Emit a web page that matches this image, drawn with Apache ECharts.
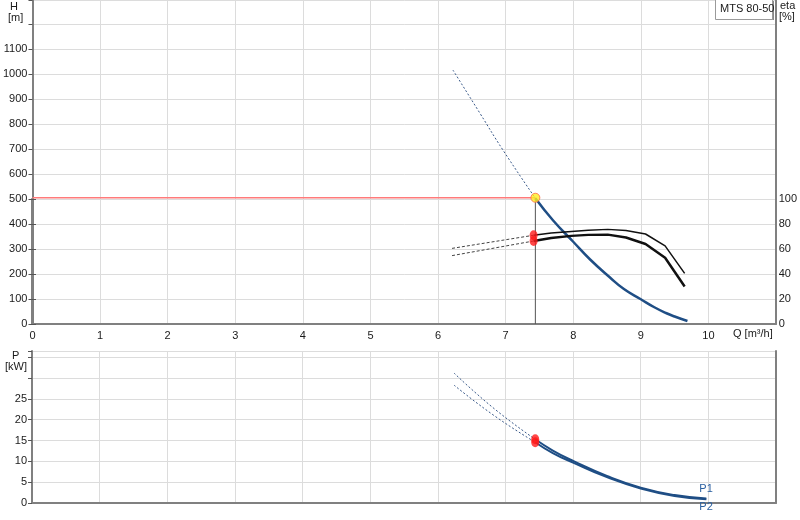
<!DOCTYPE html>
<html><head><meta charset="utf-8">
<script src="https://cdn.jsdelivr.net/npm/echarts@6/dist/echarts.min.js"></script>
<style>html,body{margin:0;padding:0;background:#fff}#c{width:800px;height:520px}</style>
</head><body><div id="c"></div>
<script>
// ---------- data ----------
const chartTitle = 'MTS 80-50';
const qTickLabels = [0,1,2,3,4,5,6,7,8,9,10];
const hTickLabels = [0,100,200,300,400,500,600,700,800,900,1000,1100];
const etaTickLabels = [0,20,40,60,80,100];
const pTickLabels = [0,5,10,15,20,25];

const dutyQ = 7.44;
const dutyH = 505;

const hQ   = [7.44, 7.7, 8.0, 8.25, 8.54, 8.75, 9.0, 9.2, 9.38, 9.5, 9.69];
const hVal = [503, 415, 329, 258, 187, 140, 99, 67, 43, 30, 12];
const hExtQ   = [6.22, 6.62, 6.96, 7.44];
const hExtVal = [1016, 843, 696, 503];

const etaQ     = [7.44, 7.7, 8.0, 8.25, 8.54, 8.81, 9.1, 9.39, 9.68];
const eta1Val  = [71, 72.8, 74, 75, 75.7, 74.8, 72, 62.5, 40.5];
const eta2Val  = [66.4, 68.8, 70.5, 71.3, 71.5, 69.2, 64, 53, 30];
const etaExtQ    = [6.23, 7.44];
const eta1ExtVal = [60.5, 71];
const eta2ExtVal = [54.7, 66.4];

const pQ    = [7.44, 7.7, 8.0, 8.5, 9.0, 9.5, 9.97];
const p1Val = [15.3, 12.6, 10.1, 6.5, 3.7, 1.9, 1.1];
const p2Val = [14.6, 12.0, 9.7, 6.2, 3.5, 1.7, 0.9];
const p1ExtQ   = [6.24, 6.83, 7.44];
const p1ExtVal = [31.2, 22.7, 15.3];
const p2ExtQ   = [6.24, 6.84, 7.44];
const p2ExtVal = [28.3, 20.9, 14.6];
const seriesNames = ['P1', 'P2'];

// ---------- helpers ----------
const zip = (xs, ys) => xs.map((x, i) => [x, ys[i]]);
const FONT = 'Liberation Sans, Arial, sans-serif';
const GRID = '#dcdcdc';
const AXIS = '#808080';
const NAVY = '#1f4e85';
const labelStyle = { color: '#1a1a1a', fontSize: 11, fontFamily: FONT };

const chart = echarts.init(document.getElementById('c'), null, { renderer: 'canvas' });

const xBase = {
  type: 'value', min: 0, max: 11, interval: 1,
  axisLine: { show: true, onZero: false, lineStyle: { color: AXIS, width: 2 } },
  axisTick: { show: false },
  splitLine: { show: true, lineStyle: { color: GRID, width: 1 } }
};

const option = {
  animation: false,
  backgroundColor: '#fff',
  grid: [
    { left: 32, right: 24, top: 0, height: 324 },
    { left: 32, right: 24, top: 199, height: 125 },
    { left: 32, right: 24, top: 351, height: 152 }
  ],
  xAxis: [
    Object.assign({}, xBase, { gridIndex: 0,
      axisLabel: Object.assign({}, labelStyle, { margin: 6,
        formatter: v => qTickLabels.includes(v) ? String(v) : '' }) }),
    Object.assign({}, xBase, { gridIndex: 1, show: false }),
    Object.assign({}, xBase, { gridIndex: 2, axisLabel: { show: false } })
  ],
  yAxis: [
    { type: 'value', gridIndex: 0, position: 'left', min: 0, max: 1296, interval: 100,
      axisLine: { show: true, lineStyle: { color: AXIS, width: 2 } },
      axisTick: { show: true, length: 4, lineStyle: { color: '#555' } },
      axisLabel: Object.assign({}, labelStyle, { margin: 5,
        formatter: v => hTickLabels.includes(v) ? String(v) : '' }),
      splitLine: { show: true, lineStyle: { color: GRID, width: 1 } } },
    { type: 'value', gridIndex: 0, position: 'right', min: 0, max: 1296,
      axisLine: { show: true, lineStyle: { color: AXIS, width: 2 } },
      axisTick: { show: false }, axisLabel: { show: false }, splitLine: { show: false } },
    { type: 'value', gridIndex: 1, position: 'right', min: 0, max: 100, interval: 20,
      axisLine: { show: true, lineStyle: { color: AXIS, width: 2 } },
      axisTick: { show: true, length: 4, lineStyle: { color: '#555' } },
      axisLabel: Object.assign({}, labelStyle, { margin: 5,
        formatter: v => etaTickLabels.includes(v) ? String(v) : '' }),
      splitLine: { show: false } },
    { type: 'value', gridIndex: 2, position: 'left', min: 0, max: 36.5, interval: 5,
      axisLine: { show: true, lineStyle: { color: AXIS, width: 2 } },
      axisTick: { show: true, length: 4, lineStyle: { color: '#555' } },
      axisLabel: Object.assign({}, labelStyle, { margin: 5,
        formatter: v => pTickLabels.includes(v) ? String(v) : '' }),
      splitLine: { show: true, lineStyle: { color: GRID, width: 1 } } },
    { type: 'value', gridIndex: 2, position: 'right', min: 0, max: 36.5,
      axisLine: { show: true, lineStyle: { color: AXIS, width: 2 } },
      axisTick: { show: false }, axisLabel: { show: false }, splitLine: { show: false } }
  ],
  series: [
    // duty point reference lines
    { type: 'line', xAxisIndex: 0, yAxisIndex: 0, data: [[0, dutyH], [dutyQ, dutyH]],
      showSymbol: false, lineStyle: { color: '#ff7a7a', width: 1.5 }, z: 3 },
    { type: 'line', xAxisIndex: 0, yAxisIndex: 0, data: [[dutyQ, dutyH], [dutyQ, 0]],
      showSymbol: false, lineStyle: { color: '#555', width: 1 }, z: 3 },
    // H curve
    { type: 'line', xAxisIndex: 0, yAxisIndex: 0, data: zip(hExtQ, hExtVal), smooth: true,
      showSymbol: false, lineStyle: { color: '#3a5a8a', width: 1, type: [2, 2] }, z: 4 },
    { type: 'line', xAxisIndex: 0, yAxisIndex: 0, data: zip(hQ, hVal), smooth: true,
      showSymbol: false, lineStyle: { color: NAVY, width: 2.5 }, z: 5 },
    // eta curves
    { type: 'line', xAxisIndex: 1, yAxisIndex: 2, data: zip(etaExtQ, eta1ExtVal),
      showSymbol: false, lineStyle: { color: '#444', width: 1, type: [3, 2] }, z: 4 },
    { type: 'line', xAxisIndex: 1, yAxisIndex: 2, data: zip(etaExtQ, eta2ExtVal),
      showSymbol: false, lineStyle: { color: '#444', width: 1, type: [3, 2] }, z: 4 },
    { type: 'line', xAxisIndex: 1, yAxisIndex: 2, data: zip(etaQ, eta1Val),
      showSymbol: false, lineStyle: { color: '#111', width: 1.5 }, z: 5 },
    { type: 'line', xAxisIndex: 1, yAxisIndex: 2, data: zip(etaQ, eta2Val),
      showSymbol: false, lineStyle: { color: '#111', width: 2.5 }, z: 5 },
    // P curves
    { type: 'line', xAxisIndex: 2, yAxisIndex: 3, data: zip(p1ExtQ, p1ExtVal), smooth: true,
      showSymbol: false, lineStyle: { color: '#3a5a8a', width: 1, type: [2, 2] }, z: 4 },
    { type: 'line', xAxisIndex: 2, yAxisIndex: 3, data: zip(p2ExtQ, p2ExtVal), smooth: true,
      showSymbol: false, lineStyle: { color: '#3a5a8a', width: 1, type: [2, 2] }, z: 4 },
    { type: 'line', name: seriesNames[0], xAxisIndex: 2, yAxisIndex: 3,
      data: zip(pQ, p1Val), smooth: true, showSymbol: false,
      endLabel: { show: true, formatter: seriesNames[0], distance: 0, offset: [-7, -9],
        color: '#2a5fa0', fontSize: 11, fontFamily: FONT },
      lineStyle: { color: NAVY, width: 2 }, z: 5 },
    { type: 'line', name: seriesNames[1], xAxisIndex: 2, yAxisIndex: 3,
      data: zip(pQ, p2Val), smooth: true, showSymbol: false,
      endLabel: { show: true, formatter: seriesNames[1], distance: 0, offset: [-7, 8],
        color: '#2a5fa0', fontSize: 11, fontFamily: FONT },
      lineStyle: { color: NAVY, width: 2 }, z: 5 },
    // duty markers
    { type: 'scatter', xAxisIndex: 1, yAxisIndex: 2,
      data: [[dutyQ, eta1Val[0]], [dutyQ, eta2Val[0]]],
      symbol: 'circle', symbolSize: [8, 10], itemStyle: { color: '#ff1a1a' }, z: 10 },
    { type: 'scatter', xAxisIndex: 2, yAxisIndex: 3,
      data: [[dutyQ, p1Val[0]], [dutyQ, p2Val[0]]],
      symbol: 'circle', symbolSize: [8, 10], itemStyle: { color: '#ff1a1a' }, z: 10 },
    { type: 'scatter', xAxisIndex: 0, yAxisIndex: 0, data: [[dutyQ, dutyH]],
      symbol: 'circle', symbolSize: 9,
      itemStyle: { color: '#ffee22', borderColor: '#ff6a4a', borderWidth: 1 }, z: 11 }
  ],
  graphic: [
    { type: 'text', left: 10, top: 1, style: { text: 'H', font: '11px ' + FONT, fill: '#1a1a1a' } },
    { type: 'text', left: 8, top: 12, style: { text: '[m]', font: '11px ' + FONT, fill: '#1a1a1a' } },
    { type: 'text', left: 12, top: 350, style: { text: 'P', font: '11px ' + FONT, fill: '#1a1a1a' } },
    { type: 'text', left: 5, top: 361, style: { text: '[kW]', font: '11px ' + FONT, fill: '#1a1a1a' } },
    { type: 'text', left: 780, top: 0, style: { text: 'eta', font: '11px ' + FONT, fill: '#1a1a1a' } },
    { type: 'text', left: 779, top: 11, style: { text: '[%]', font: '11px ' + FONT, fill: '#1a1a1a' } },
    { type: 'text', left: 733, top: 328, style: { text: 'Q [m³/h]', font: '11px ' + FONT, fill: '#1a1a1a' } },
    { type: 'rect', left: 718, top: 1, z: 20,
      shape: { width: 56, height: 19 },
      style: { fill: '#888', stroke: null } },
    { type: 'rect', left: 715, top: -1, z: 21,
      shape: { width: 57, height: 20 },
      style: { fill: '#fff', stroke: '#9a9a9a', lineWidth: 1 } },
    { type: 'text', left: 720, top: 3, z: 22,
      style: { text: chartTitle, font: '11px ' + FONT, fill: '#1a1a1a' } }
  ]
};
chart.setOption(option);
</script>
</body></html>
